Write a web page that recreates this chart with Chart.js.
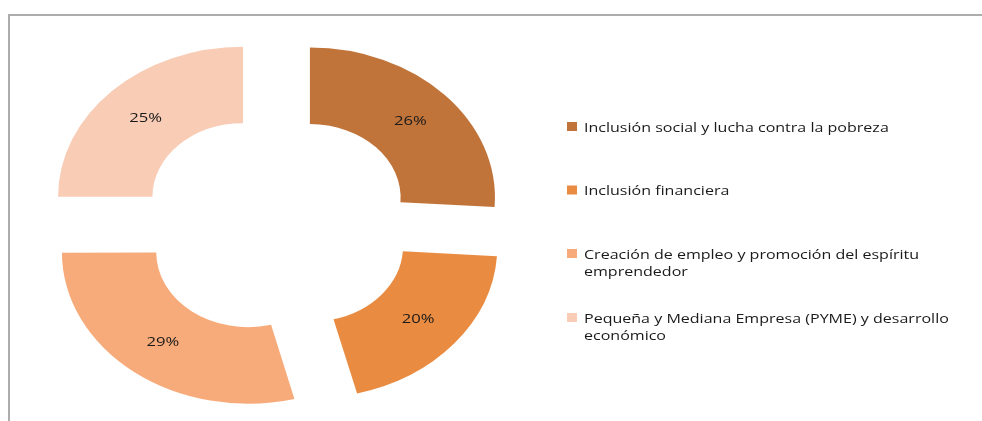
<!DOCTYPE html>
<html>
<head>
<meta charset="utf-8">
<script src="https://cdn.jsdelivr.net/npm/chart.js@4.4.0/dist/chart.umd.min.js"></script>
<style>
  html, body { margin: 0; padding: 0; background: #fff; }
  #wrap { width: 982px; height: 421px; }
</style>
</head>
<body>
<div id="wrap"><canvas id="ejesChart" width="982" height="421"></canvas></div>
<script>
// Ejes de trabajo (porcentaje del total)
const ejes = [
  'Inclusión social y lucha contra la pobreza',
  'Inclusión financiera',
  ['Creación de empleo y promoción del espíritu', 'emprendedor'],
  ['Pequeña y Mediana Empresa (PYME) y desarrollo', 'económico']
];
const porcentajes = [26, 20, 29, 25];
const colores = ['#C1743A', '#E98C42', '#F7AB7A', '#F9CCB6'];

const ESTIRAR = 1.233;     // the ring is drawn wider than tall
const SEPARACION = 37.8;   // how far each slice is pulled out
const leyendaY = [128, 191.5, 255, 319];

// chart.js v4 moves an arc by offset/4 * (1 + fix); undo that so every slice moves the same distance
function offsetArco(c) {
  const total = porcentajes.reduce((a, b) => a + b, 0);
  const ang = c.parsed / total * Math.PI * 2;
  const fix = 1 - Math.sin(Math.min(Math.PI, ang));
  return 4 * SEPARACION / (1 + fix);
}

const estirar = {
  id: 'estirar',
  beforeDraw(chart) {
    const ctx = chart.ctx;
    ctx.save();
    ctx.strokeStyle = '#ADADAD';
    ctx.lineWidth = 2;
    ctx.beginPath();
    ctx.moveTo(9, 421);
    ctx.lineTo(9, 15);
    ctx.lineTo(982, 15);
    ctx.stroke();
    ctx.restore();
  },
  beforeDatasetsDraw(chart) {
    const arc = chart.getDatasetMeta(0).data[0];
    const ctx = chart.ctx;
    ctx.save();
    ctx.translate(arc.x, 0);
    ctx.scale(ESTIRAR, 1);
    ctx.translate(-arc.x, 0);
  },
  afterDatasetsDraw(chart) {
    const ctx = chart.ctx;
    ctx.restore();
    const meta = chart.getDatasetMeta(0);
    const valores = chart.data.datasets[0].data;

    // percentage labels in the middle of each slice
    meta.data.forEach((arc, i) => {
      const p = arc.getProps(['x', 'y', 'startAngle', 'endAngle', 'innerRadius', 'outerRadius']);
      const mid = (p.startAngle + p.endAngle) / 2;
      const fix = 1 - Math.sin(Math.min(Math.PI, p.endAngle - p.startAngle));
      const mov = arc.options.offset / 4 * (1 + fix);
      const r = (p.innerRadius + p.outerRadius) / 2 + mov;
      const lx = p.x + Math.cos(mid) * r * ESTIRAR;
      const ly = p.y + Math.sin(mid) * r;
      ctx.save();
      ctx.translate(lx, ly);
      ctx.scale(ESTIRAR, 1);
      ctx.font = '13.5px "Open Sans"';
      ctx.fillStyle = '#1A1A1A';
      ctx.textAlign = 'center';
      ctx.textBaseline = 'middle';
      ctx.fillText(valores[i] + '%', 0, 0);
      ctx.restore();
    });

    // legend on the right
    chart.data.labels.forEach((lab, i) => {
      const lineas = Array.isArray(lab) ? lab : [lab];
      const y = leyendaY[i];
      ctx.fillStyle = colores[i];
      ctx.fillRect(567, y - 6, 10, 9);
      lineas.forEach((t, k) => {
        ctx.save();
        ctx.translate(584, y + k * 17);
        ctx.scale(ESTIRAR, 1);
        ctx.font = '13px "Open Sans"';
        ctx.fillStyle = '#1A1A1A';
        ctx.textAlign = 'left';
        ctx.textBaseline = 'middle';
        ctx.fillText(t, 0, 0);
        ctx.restore();
      });
    });
  }
};

const ctx = document.getElementById('ejesChart').getContext('2d');

const ejesChart = new Chart(ctx, {
  type: 'doughnut',
  data: {
    labels: ejes,
    datasets: [{
      data: porcentajes,
      backgroundColor: colores,
      borderWidth: 0,
      offset: offsetArco,
      hoverOffset: 0
    }]
  },
  options: {
    responsive: false,
    animation: false,
    radius: 150,
    cutout: '49%',
    layout: { padding: { left: 0, right: 430, top: 26, bottom: 0 } },
    plugins: {
      legend: { display: false },
      tooltip: { enabled: false }
    }
  },
  plugins: [estirar]
});
</script>
</body>
</html>
